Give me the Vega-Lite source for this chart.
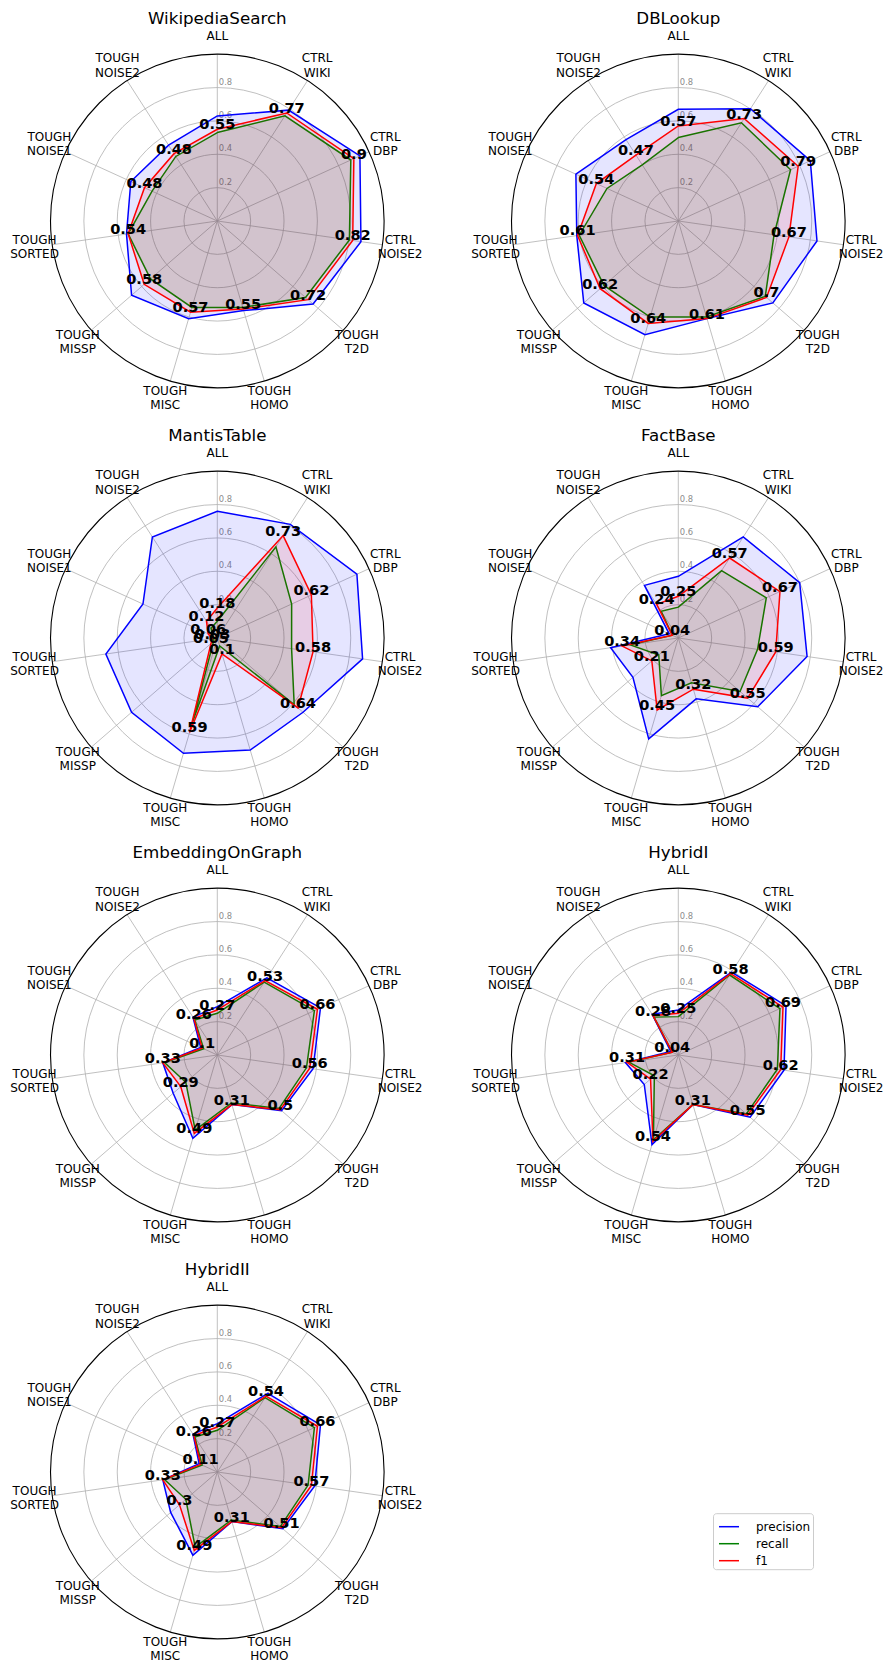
{
  "$schema": "https://vega.github.io/schema/vega-lite/v6.json",
  "padding": 0,
  "autosize": {"type": "pad"},
  "background": "white",
  "config": {
    "view": {"stroke": null},
    "axis": {"disable": true},
    "font": "DejaVu Sans",
    "text": {"font": "DejaVu Sans"},
    "header": {"labels": false, "title": null, "labelPadding": 0, "titlePadding": 0, "labelFontSize": 0},
    "headerFacet": {"labels": false, "title": null, "labelPadding": 0, "titlePadding": 0, "labelFontSize": 0}
  },
  "datasets": {
    "axes": [
      {"axis": "ALL", "k": 0},
      {"axis": "CTRL WIKI", "k": 1},
      {"axis": "CTRL DBP", "k": 2},
      {"axis": "CTRL NOISE2", "k": 3},
      {"axis": "TOUGH T2D", "k": 4},
      {"axis": "TOUGH HOMO", "k": 5},
      {"axis": "TOUGH MISC", "k": 6},
      {"axis": "TOUGH MISSP", "k": 7},
      {"axis": "TOUGH SORTED", "k": 8},
      {"axis": "TOUGH NOISE1", "k": 9},
      {"axis": "TOUGH NOISE2", "k": 10}
    ],
    "scores": [
      {"model": "WikipediaSearch", "axis": "ALL", "precision": 0.63, "recall": 0.53, "f1": 0.55},
      {"model": "WikipediaSearch", "axis": "CTRL WIKI", "precision": 0.79, "recall": 0.75, "f1": 0.77},
      {"model": "WikipediaSearch", "axis": "CTRL DBP", "precision": 0.94, "recall": 0.88, "f1": 0.9},
      {"model": "WikipediaSearch", "axis": "CTRL NOISE2", "precision": 0.87, "recall": 0.8, "f1": 0.82},
      {"model": "WikipediaSearch", "axis": "TOUGH T2D", "precision": 0.76, "recall": 0.7, "f1": 0.72},
      {"model": "WikipediaSearch", "axis": "TOUGH HOMO", "precision": 0.56, "recall": 0.54, "f1": 0.55},
      {"model": "WikipediaSearch", "axis": "TOUGH MISC", "precision": 0.61, "recall": 0.54, "f1": 0.57},
      {"model": "WikipediaSearch", "axis": "TOUGH MISSP", "precision": 0.68, "recall": 0.53, "f1": 0.58},
      {"model": "WikipediaSearch", "axis": "TOUGH SORTED", "precision": 0.55, "recall": 0.54, "f1": 0.54},
      {"model": "WikipediaSearch", "axis": "TOUGH NOISE1", "precision": 0.57, "recall": 0.43, "f1": 0.48},
      {"model": "WikipediaSearch", "axis": "TOUGH NOISE2", "precision": 0.54, "recall": 0.46, "f1": 0.48},

      {"model": "DBLookup", "axis": "ALL", "precision": 0.67, "recall": 0.5, "f1": 0.57},
      {"model": "DBLookup", "axis": "CTRL WIKI", "precision": 0.8, "recall": 0.7, "f1": 0.73},
      {"model": "DBLookup", "axis": "CTRL DBP", "precision": 0.87, "recall": 0.74, "f1": 0.79},
      {"model": "DBLookup", "axis": "CTRL NOISE2", "precision": 0.84, "recall": 0.58, "f1": 0.67},
      {"model": "DBLookup", "axis": "TOUGH T2D", "precision": 0.75, "recall": 0.69, "f1": 0.7},
      {"model": "DBLookup", "axis": "TOUGH HOMO", "precision": 0.61, "recall": 0.6, "f1": 0.61},
      {"model": "DBLookup", "axis": "TOUGH MISC", "precision": 0.71, "recall": 0.6, "f1": 0.64},
      {"model": "DBLookup", "axis": "TOUGH MISSP", "precision": 0.75, "recall": 0.59, "f1": 0.62},
      {"model": "DBLookup", "axis": "TOUGH SORTED", "precision": 0.615, "recall": 0.6, "f1": 0.61},
      {"model": "DBLookup", "axis": "TOUGH NOISE1", "precision": 0.675, "recall": 0.47, "f1": 0.54},
      {"model": "DBLookup", "axis": "TOUGH NOISE2", "precision": 0.58, "recall": 0.4, "f1": 0.47},

      {"model": "MantisTable", "axis": "ALL", "precision": 0.76, "recall": 0.1, "f1": 0.18},
      {"model": "MantisTable", "axis": "CTRL WIKI", "precision": 0.81, "recall": 0.65, "f1": 0.73},
      {"model": "MantisTable", "axis": "CTRL DBP", "precision": 0.92, "recall": 0.49, "f1": 0.62},
      {"model": "MantisTable", "axis": "CTRL NOISE2", "precision": 0.88, "recall": 0.45, "f1": 0.58},
      {"model": "MantisTable", "axis": "TOUGH T2D", "precision": 0.68, "recall": 0.61, "f1": 0.64},
      {"model": "MantisTable", "axis": "TOUGH HOMO", "precision": 0.7, "recall": 0.05, "f1": 0.1},
      {"model": "MantisTable", "axis": "TOUGH MISC", "precision": 0.72, "recall": 0.52, "f1": 0.59},
      {"model": "MantisTable", "axis": "TOUGH MISSP", "precision": 0.68, "recall": 0.03, "f1": 0.05},
      {"model": "MantisTable", "axis": "TOUGH SORTED", "precision": 0.675, "recall": 0.02, "f1": 0.03},
      {"model": "MantisTable", "axis": "TOUGH NOISE1", "precision": 0.49, "recall": 0.03, "f1": 0.06},
      {"model": "MantisTable", "axis": "TOUGH NOISE2", "precision": 0.72, "recall": 0.07, "f1": 0.12},

      {"model": "FactBase", "axis": "ALL", "precision": 0.37, "recall": 0.185, "f1": 0.25},
      {"model": "FactBase", "axis": "CTRL WIKI", "precision": 0.72, "recall": 0.48, "f1": 0.57},
      {"model": "FactBase", "axis": "CTRL DBP", "precision": 0.8, "recall": 0.58, "f1": 0.67},
      {"model": "FactBase", "axis": "CTRL NOISE2", "precision": 0.78, "recall": 0.48, "f1": 0.59},
      {"model": "FactBase", "axis": "TOUGH T2D", "precision": 0.63, "recall": 0.49, "f1": 0.55},
      {"model": "FactBase", "axis": "TOUGH HOMO", "precision": 0.38, "recall": 0.28, "f1": 0.32},
      {"model": "FactBase", "axis": "TOUGH MISC", "precision": 0.63, "recall": 0.36, "f1": 0.45},
      {"model": "FactBase", "axis": "TOUGH MISSP", "precision": 0.36, "recall": 0.155, "f1": 0.21},
      {"model": "FactBase", "axis": "TOUGH SORTED", "precision": 0.41, "recall": 0.29, "f1": 0.34},
      {"model": "FactBase", "axis": "TOUGH NOISE1", "precision": 0.06, "recall": 0.04, "f1": 0.04},
      {"model": "FactBase", "axis": "TOUGH NOISE2", "precision": 0.375, "recall": 0.19, "f1": 0.24},

      {"model": "EmbeddingOnGraph", "axis": "ALL", "precision": 0.29, "recall": 0.25, "f1": 0.27},
      {"model": "EmbeddingOnGraph", "axis": "CTRL WIKI", "precision": 0.55, "recall": 0.52, "f1": 0.53},
      {"model": "EmbeddingOnGraph", "axis": "CTRL DBP", "precision": 0.68, "recall": 0.64, "f1": 0.66},
      {"model": "EmbeddingOnGraph", "axis": "CTRL NOISE2", "precision": 0.58, "recall": 0.54, "f1": 0.56},
      {"model": "EmbeddingOnGraph", "axis": "TOUGH T2D", "precision": 0.51, "recall": 0.49, "f1": 0.5},
      {"model": "EmbeddingOnGraph", "axis": "TOUGH HOMO", "precision": 0.31, "recall": 0.3, "f1": 0.31},
      {"model": "EmbeddingOnGraph", "axis": "TOUGH MISC", "precision": 0.52, "recall": 0.47, "f1": 0.49},
      {"model": "EmbeddingOnGraph", "axis": "TOUGH MISSP", "precision": 0.35, "recall": 0.25, "f1": 0.29},
      {"model": "EmbeddingOnGraph", "axis": "TOUGH SORTED", "precision": 0.33, "recall": 0.32, "f1": 0.33},
      {"model": "EmbeddingOnGraph", "axis": "TOUGH NOISE1", "precision": 0.11, "recall": 0.09, "f1": 0.1},
      {"model": "EmbeddingOnGraph", "axis": "TOUGH NOISE2", "precision": 0.27, "recall": 0.25, "f1": 0.26},

      {"model": "HybridI", "axis": "ALL", "precision": 0.27, "recall": 0.23, "f1": 0.25},
      {"model": "HybridI", "axis": "CTRL WIKI", "precision": 0.59, "recall": 0.57, "f1": 0.58},
      {"model": "HybridI", "axis": "CTRL DBP", "precision": 0.71, "recall": 0.67, "f1": 0.69},
      {"model": "HybridI", "axis": "CTRL NOISE2", "precision": 0.64, "recall": 0.6, "f1": 0.62},
      {"model": "HybridI", "axis": "TOUGH T2D", "precision": 0.57, "recall": 0.54, "f1": 0.55},
      {"model": "HybridI", "axis": "TOUGH HOMO", "precision": 0.31, "recall": 0.31, "f1": 0.31},
      {"model": "HybridI", "axis": "TOUGH MISC", "precision": 0.56, "recall": 0.53, "f1": 0.54},
      {"model": "HybridI", "axis": "TOUGH MISSP", "precision": 0.27, "recall": 0.19, "f1": 0.22},
      {"model": "HybridI", "axis": "TOUGH SORTED", "precision": 0.32, "recall": 0.3, "f1": 0.31},
      {"model": "HybridI", "axis": "TOUGH NOISE1", "precision": 0.05, "recall": 0.04, "f1": 0.04},
      {"model": "HybridI", "axis": "TOUGH NOISE2", "precision": 0.29, "recall": 0.27, "f1": 0.28},

      {"model": "HybridII", "axis": "ALL", "precision": 0.29, "recall": 0.25, "f1": 0.27},
      {"model": "HybridII", "axis": "CTRL WIKI", "precision": 0.56, "recall": 0.53, "f1": 0.54},
      {"model": "HybridII", "axis": "CTRL DBP", "precision": 0.68, "recall": 0.64, "f1": 0.66},
      {"model": "HybridII", "axis": "CTRL NOISE2", "precision": 0.59, "recall": 0.55, "f1": 0.57},
      {"model": "HybridII", "axis": "TOUGH T2D", "precision": 0.52, "recall": 0.5, "f1": 0.51},
      {"model": "HybridII", "axis": "TOUGH HOMO", "precision": 0.31, "recall": 0.3, "f1": 0.31},
      {"model": "HybridII", "axis": "TOUGH MISC", "precision": 0.52, "recall": 0.47, "f1": 0.49},
      {"model": "HybridII", "axis": "TOUGH MISSP", "precision": 0.37, "recall": 0.25, "f1": 0.3},
      {"model": "HybridII", "axis": "TOUGH SORTED", "precision": 0.33, "recall": 0.32, "f1": 0.33},
      {"model": "HybridII", "axis": "TOUGH NOISE1", "precision": 0.12, "recall": 0.1, "f1": 0.11},
      {"model": "HybridII", "axis": "TOUGH NOISE2", "precision": 0.27, "recall": 0.25, "f1": 0.26}
    ]
  },
  "data": {"name": "scores"},
  "transform": [
    {"lookup": "axis", "from": {"data": {"name": "axes"}, "key": "axis", "fields": ["k"]}},
    {"calculate": "datum.k * 2 * PI / 11", "as": "angle"},
    {"calculate": "sin(datum.angle)", "as": "sx"},
    {"calculate": "cos(datum.angle)", "as": "cy"}
  ],
  "facet": {
    "field": "model",
    "type": "nominal",
    "title": null,
    "header": {"labels": false, "title": null, "labelPadding": 0, "titlePadding": 0, "labelFontSize": 0},
    "sort": ["WikipediaSearch", "DBLookup", "MantisTable", "FactBase", "EmbeddingOnGraph", "HybridI", "HybridII"]
  },
  "columns": 2,
  "spacing": {"row": 0, "column": 19},
  "bounds": "flush",
  "spec": {
    "width": 442,
    "height": 417,
    "encoding": {
      "x": {"field": "px", "type": "quantitative", "axis": null, "scale": {"domain": [-1.3028, 1.3471], "nice": false, "zero": false}},
      "y": {"field": "py", "type": "quantitative", "axis": null, "scale": {"domain": [-1.1751, 1.3249], "nice": false, "zero": false}}
    },
    "layer": [
      {
        "transform": [{"filter": "datum.axis === 'ALL'"}, {"calculate": "0", "as": "px"}, {"calculate": "0", "as": "py"}],
        "mark": {"type": "point", "shape": "circle", "size": 4452, "filled": false, "stroke": "#b0b0b0", "strokeWidth": 0.8, "opacity": 1}
      },
      {
        "transform": [{"filter": "datum.axis === 'ALL'"}, {"calculate": "0", "as": "px"}, {"calculate": "0", "as": "py"}],
        "mark": {"type": "point", "shape": "circle", "size": 17806, "filled": false, "stroke": "#b0b0b0", "strokeWidth": 0.8, "opacity": 1}
      },
      {
        "transform": [{"filter": "datum.axis === 'ALL'"}, {"calculate": "0", "as": "px"}, {"calculate": "0", "as": "py"}],
        "mark": {"type": "point", "shape": "circle", "size": 40064, "filled": false, "stroke": "#b0b0b0", "strokeWidth": 0.8, "opacity": 1}
      },
      {
        "transform": [{"filter": "datum.axis === 'ALL'"}, {"calculate": "0", "as": "px"}, {"calculate": "0", "as": "py"}],
        "mark": {"type": "point", "shape": "circle", "size": 71226, "filled": false, "stroke": "#b0b0b0", "strokeWidth": 0.8, "opacity": 1}
      },
      {
        "transform": [{"calculate": "0", "as": "px"}, {"calculate": "0", "as": "py"}],
        "mark": {"type": "rule", "stroke": "#b0b0b0", "strokeWidth": 0.8},
        "encoding": {"x2": {"field": "sx"}, "y2": {"field": "cy"}}
      },
      {
        "transform": [{"filter": "datum.axis === 'ALL'"}, {"calculate": "0", "as": "px"}, {"calculate": "0", "as": "py"}],
        "mark": {"type": "point", "shape": "circle", "size": 111290, "filled": false, "stroke": "black", "strokeWidth": 1.1, "opacity": 1}
      },
      {
        "transform": [{"filter": "datum.axis === 'ALL'"}, {"calculate": "0", "as": "px"}, {"calculate": "0.2", "as": "py"}],
        "mark": {"type": "text", "text": "0.2", "align": "left", "baseline": "bottom", "dx": 1.5, "dy": -1, "fontSize": 8.4, "fill": "#8c8c8c"}
      },
      {
        "transform": [{"filter": "datum.axis === 'ALL'"}, {"calculate": "0", "as": "px"}, {"calculate": "0.4", "as": "py"}],
        "mark": {"type": "text", "text": "0.4", "align": "left", "baseline": "bottom", "dx": 1.5, "dy": -1, "fontSize": 8.4, "fill": "#8c8c8c"}
      },
      {
        "transform": [{"filter": "datum.axis === 'ALL'"}, {"calculate": "0", "as": "px"}, {"calculate": "0.6", "as": "py"}],
        "mark": {"type": "text", "text": "0.6", "align": "left", "baseline": "bottom", "dx": 1.5, "dy": -1, "fontSize": 8.4, "fill": "#8c8c8c"}
      },
      {
        "transform": [{"filter": "datum.axis === 'ALL'"}, {"calculate": "0", "as": "px"}, {"calculate": "0.8", "as": "py"}],
        "mark": {"type": "text", "text": "0.8", "align": "left", "baseline": "bottom", "dx": 1.5, "dy": -1, "fontSize": 8.4, "fill": "#8c8c8c"}
      },
      {
        "transform": [
          {"fold": ["precision", "recall", "f1"], "as": ["metric", "value"]},
          {"calculate": "datum.value * datum.sx", "as": "px"},
          {"calculate": "datum.value * datum.cy", "as": "py"}
        ],
        "mark": {"type": "line", "interpolate": "linear-closed", "strokeWidth": 1.5, "fillOpacity": 0.1},
        "encoding": {
          "order": {"field": "k", "type": "quantitative"},
          "stroke": {
            "field": "metric",
            "type": "nominal",
            "scale": {"domain": ["precision", "recall", "f1"], "range": ["#0000ff", "#008000", "#ff0000"]},
            "legend": {
              "orient": "none",
              "legendX": 713,
              "legendY": 1513.2,
              "title": null,
              "symbolType": "stroke",
              "symbolSize": 400,
              "symbolStrokeWidth": 1.5,
              "symbolFillColor": "transparent",
              "symbolOffset": 2.5,
              "labelFontSize": 12,
              "labelFont": "DejaVu Sans",
              "labelColor": "black",
              "labelOffset": 16,
              "rowPadding": -2.2,
              "padding": 2.5,
              "strokeColor": "#cccccc",
              "fillColor": "white",
              "cornerRadius": 3
            }
          },
          "fill": {
            "field": "metric",
            "type": "nominal",
            "scale": {"domain": ["precision", "recall", "f1"], "range": ["#0000ff", "#008000", "#ff0000"]}
          }
        }
      },
      {
        "transform": [
          {"filter": "datum.axis === 'ALL'"},
          {"calculate": "1.107 * datum.sx", "as": "px"},
          {"calculate": "1.107 * datum.cy", "as": "py"}
        ],
        "mark": {"type": "text", "align": "center", "baseline": "middle", "fontSize": 12, "fill": "black"},
        "encoding": {"text": {"field": "axis", "type": "nominal"}}
      },
      {
        "transform": [
          {"filter": "datum.axis !== 'ALL'"},
          {"calculate": "1.107 * datum.sx", "as": "px"},
          {"calculate": "1.107 * datum.cy", "as": "py"}
        ],
        "mark": {"type": "text", "align": "center", "baseline": "middle", "dy": -7.2, "lineBreak": " ", "lineHeight": 14.4, "fontSize": 12, "fill": "black"},
        "encoding": {"text": {"field": "axis", "type": "nominal"}}
      },
      {
        "transform": [
          {"calculate": "datum.f1 * datum.sx", "as": "px"},
          {"calculate": "datum.f1 * datum.cy", "as": "py"}
        ],
        "mark": {"type": "text", "align": "center", "baseline": "alphabetic", "fontSize": 14.6, "fontWeight": "bold", "fill": "black"},
        "encoding": {"text": {"field": "f1", "type": "nominal"}}
      },
      {
        "transform": [
          {"filter": "datum.axis === 'ALL'"},
          {"calculate": "1.107 * datum.sx", "as": "px"},
          {"calculate": "1.107 * datum.cy", "as": "py"}
        ],
        "mark": {"type": "text", "align": "center", "baseline": "middle", "dy": -17.5, "fontSize": 16.7, "fill": "black"},
        "encoding": {"text": {"field": "model", "type": "nominal"}}
      }
    ]
  }
}
